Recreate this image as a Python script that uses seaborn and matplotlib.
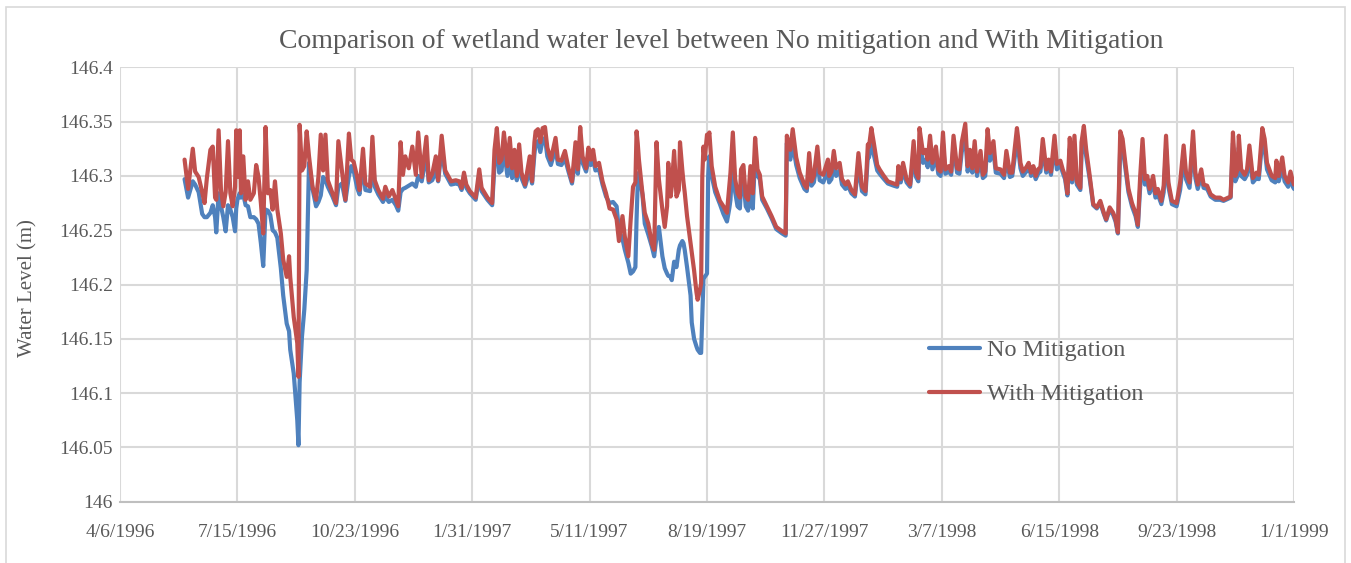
import numpy as np
import pandas as pd
import matplotlib
matplotlib.use("Agg")
import matplotlib.pyplot as plt
from matplotlib.lines import Line2D
from matplotlib.patches import Rectangle
import seaborn as sns

# Simulated wetland water level (m), sampled at day offsets from the start date
START_DATE = "1996-04-06"
day_offset = [
    55, 58, 62, 64, 67, 70, 72, 74, 77, 79, 81, 82, 84, 86, 88, 90, 92, 94, 96, 98,
    99, 100, 102, 103, 105, 107, 109, 111, 114, 116, 118, 120, 122, 124, 126, 128, 130, 132, 134, 137,
    139, 142, 144, 145, 148, 151, 152, 153, 155, 157, 159, 161, 164, 167, 169, 171, 173, 175, 177, 181,
    184, 186, 189, 192, 195, 197, 199, 202, 204, 207, 209, 213, 215, 217, 220, 224, 226, 229, 232, 235,
    237, 239, 241, 243, 246, 249, 252, 254, 257, 261, 263, 266, 269, 271, 274, 277, 282, 286, 289, 291,
    293, 295, 298, 303, 306, 308, 313, 317, 319, 321, 323, 325, 327, 330, 332, 334, 336, 338, 340, 342,
    345, 349, 351, 353, 354, 356, 358, 360, 362, 364, 367, 371, 373, 376, 379, 382, 385, 388, 390, 392,
    394, 397, 399, 401, 403, 405, 408, 411, 414, 417, 420, 423, 425, 428, 430, 433, 435, 437, 439, 440,
    441, 442, 445, 447, 450, 453, 455, 457, 459, 462, 464, 466, 467, 469, 470, 472, 474, 476, 477, 479,
    480, 481, 483, 486, 487, 489, 491, 492, 494, 495, 496, 497, 498, 500, 501, 502, 504, 507, 511, 514,
    517, 519, 520, 522, 524, 526, 528, 529, 531, 533, 535, 537, 539, 541, 543, 545, 547, 551, 555, 559,
    564, 567, 568, 571, 573, 576, 579, 583, 585, 587, 589, 591, 594, 596, 599, 603, 604, 606, 608, 610,
    613, 615, 618, 620, 623, 626, 629, 632, 635, 637, 638, 640, 642, 645, 647, 650, 654, 659, 662, 663,
    665, 667, 670, 673, 676, 678, 680, 681, 684, 686, 688, 690, 692, 695, 697, 699, 701, 703, 706, 708,
    710, 713, 715, 717, 720, 722, 724, 726, 728, 730, 733, 735, 737, 739, 741, 744, 746, 750, 753, 755,
    758, 760, 762, 764, 765, 767, 769, 772, 774, 776, 778, 780, 782, 784, 786, 789, 791, 793, 796, 798,
    801, 803, 805, 807, 809, 811, 813, 815, 818, 819, 821, 823, 826, 829, 832, 835, 838, 840, 843, 846,
    848, 850, 852, 854, 856, 859, 862, 865, 867, 869, 871, 873, 875, 877, 880, 882, 884, 887, 889, 891,
    893, 896, 900, 903, 906, 908, 911, 914, 916, 918, 921, 923, 926, 929, 933, 937, 940, 944, 946, 948,
    950, 952, 953, 955, 958, 960, 962, 965, 968, 970, 973, 975, 977, 981, 984, 985, 987, 990, 992, 995,
    997, 999, 1000,
]

with_mitigation = [
    146.315, 146.288, 146.325, 146.304, 146.299, 146.285, 146.275, 146.298, 146.324, 146.327,
    146.280, 146.278, 146.342, 146.287, 146.272, 146.285, 146.332, 146.284, 146.272, 146.290,
    146.342, 146.299, 146.342, 146.284, 146.318, 146.278, 146.295, 146.278, 146.284, 146.310,
    146.299, 146.275, 146.247, 146.345, 146.284, 146.287, 146.269, 146.295, 146.269, 146.247,
    146.223, 146.207, 146.226, 146.207, 146.170, 146.146, 146.115, 146.347, 146.305, 146.309,
    146.341, 146.318, 146.290, 146.278, 146.299, 146.338, 146.305, 146.338, 146.296, 146.284,
    146.275, 146.332, 146.305, 146.278, 146.339, 146.315, 146.313, 146.299, 146.287, 146.325,
    146.293, 146.290, 146.336, 146.296, 146.287, 146.279, 146.290, 146.281, 146.287, 146.278,
    146.272, 146.331, 146.301, 146.318, 146.307, 146.327, 146.301, 146.340, 146.299, 146.336,
    146.296, 146.302, 146.318, 146.296, 146.337, 146.305, 146.295, 146.296, 146.295, 146.289,
    146.303, 146.292, 146.286, 146.280, 146.306, 146.289, 146.280, 146.275, 146.324, 146.344,
    146.312, 146.315, 146.340, 146.309, 146.335, 146.307, 146.324, 146.300, 146.329, 146.303,
    146.292, 146.318, 146.295, 146.331, 146.341, 146.343, 146.331, 146.344, 146.345, 146.326,
    146.315, 146.335, 146.315, 146.314, 146.323, 146.307, 146.295, 146.331, 146.306, 146.345,
    146.318, 146.307, 146.326, 146.315, 146.324, 146.309, 146.312, 146.295, 146.284, 146.270,
    146.269, 146.260, 146.240, 146.263, 146.244, 146.226, 146.260, 146.290, 146.294, 146.341,
    146.330, 146.315, 146.284, 146.266, 146.256, 146.238, 146.232, 146.331, 146.297, 146.269,
    146.253, 146.272, 146.312, 146.281, 146.290, 146.323, 146.281, 146.287, 146.331, 146.305,
    146.294, 146.285, 146.263, 146.238, 146.230, 146.213, 146.193, 146.186, 146.195, 146.201,
    146.300, 146.327, 146.315, 146.338, 146.335, 146.340, 146.309, 146.290, 146.277, 146.272,
    146.266, 146.290, 146.303, 146.340, 146.297, 146.284, 146.280, 146.306, 146.310, 146.281,
    146.278, 146.309, 146.284, 146.335, 146.306, 146.301, 146.281, 146.272, 146.263, 146.253,
    146.249, 146.247, 146.337, 146.324, 146.343, 146.317, 146.303, 146.292, 146.289, 146.321,
    146.295, 146.300, 146.327, 146.303, 146.301, 146.315, 146.300, 146.304, 146.323, 146.307,
    146.312, 146.297, 146.292, 146.295, 146.287, 146.283, 146.321, 146.290, 146.286, 146.329,
    146.327, 146.344, 146.331, 146.310, 146.306, 146.301, 146.295, 146.293, 146.292, 146.309,
    146.297, 146.312, 146.297, 146.292, 146.332, 146.303, 146.298, 146.344, 146.321, 146.324,
    146.315, 146.337, 146.312, 146.327, 146.306, 146.304, 146.340, 146.306, 146.309, 146.304,
    146.337, 146.307, 146.306, 146.331, 146.348, 146.309, 146.324, 146.307, 146.332, 146.304,
    146.323, 146.301, 146.304, 146.343, 146.321, 146.332, 146.307, 146.306, 146.301, 146.323,
    146.303, 146.303, 146.324, 146.344, 146.335, 146.312, 146.304, 146.308, 146.312, 146.303,
    146.309, 146.300, 146.306, 146.308, 146.334, 146.306, 146.315, 146.304, 146.337, 146.311,
    146.314, 146.306, 146.300, 146.284, 146.335, 146.297, 146.337, 146.295, 146.289, 146.331,
    146.346, 146.324, 146.300, 146.274, 146.271, 146.277, 146.266, 146.260, 146.271, 146.266,
    146.260, 146.248, 146.341, 146.334, 146.315, 146.288, 146.275, 146.266, 146.255, 146.300,
    146.334, 146.297, 146.300, 146.288, 146.300, 146.284, 146.288, 146.277, 146.291, 146.337,
    146.294, 146.277, 146.275, 146.294, 146.328, 146.303, 146.294, 146.341, 146.303, 146.292,
    146.306, 146.292, 146.291, 146.283, 146.280, 146.280, 146.278, 146.280, 146.281, 146.340,
    146.300, 146.306, 146.337, 146.306, 146.301, 146.306, 146.328, 146.298, 146.303, 146.301,
    146.344, 146.334, 146.312, 146.300, 146.298, 146.314, 146.300, 146.317, 146.300, 146.294,
    146.304, 146.295, 146.292,
]

no_mitigation = [
    146.297, 146.280, 146.295, 146.292, 146.285, 146.265, 146.262, 146.262, 146.266, 146.273,
    146.262, 146.248, 146.284, 146.272, 146.262, 146.249, 146.273, 146.269, 146.262, 146.249,
    146.270, 146.278, 146.284, 146.280, 146.283, 146.273, 146.272, 146.262, 146.262, 146.260,
    146.256, 146.238, 146.217, 146.269, 146.268, 146.264, 146.250, 146.248, 146.243, 146.215,
    146.190, 146.164, 146.157, 146.140, 146.118, 146.075, 146.052, 146.110, 146.152, 146.177,
    146.213, 146.312, 146.288, 146.272, 146.276, 146.282, 146.299, 146.296, 146.290, 146.281,
    146.273, 146.290, 146.293, 146.277, 146.300, 146.309, 146.305, 146.289, 146.283, 146.312,
    146.287, 146.286, 146.324, 146.290, 146.283, 146.276, 146.281, 146.276, 146.278, 146.273,
    146.268, 146.285, 146.288, 146.289, 146.291, 146.293, 146.290, 146.300, 146.295, 146.320,
    146.294, 146.296, 146.305, 146.295, 146.325, 146.302, 146.292, 146.293, 146.292, 146.287,
    146.300, 146.289, 146.284, 146.278, 146.300, 146.286, 146.278, 146.273, 146.310, 146.330,
    146.303, 146.305, 146.325, 146.300, 146.318, 146.298, 146.310, 146.296, 146.315, 146.298,
    146.290, 146.305, 146.293, 146.320, 146.330, 146.332, 146.322, 146.333, 146.335, 146.318,
    146.310, 146.325, 146.311, 146.310, 146.316, 146.304, 146.293, 146.318, 146.302, 146.330,
    146.312, 146.304, 146.315, 146.310, 146.315, 146.305, 146.306, 146.292, 146.281, 146.275,
    146.276, 146.272, 146.250, 146.242, 146.232, 146.220, 146.210, 146.212, 146.216, 146.260,
    146.294, 146.303, 146.283, 146.256, 146.246, 146.235, 146.226, 146.244, 146.253, 146.226,
    146.215, 146.210, 146.208, 146.207, 146.204, 146.221, 146.216, 146.232, 146.236, 146.240,
    146.238, 146.232, 146.216, 146.190, 146.165, 146.150, 146.143, 146.140, 146.137, 146.137,
    146.170, 146.205, 146.207, 146.210, 146.300, 146.318, 146.300, 146.285, 146.274, 146.265,
    146.258, 146.270, 146.278, 146.320, 146.285, 146.272, 146.270, 146.290, 146.295, 146.272,
    146.268, 146.290, 146.270, 146.320, 146.300, 146.297, 146.278, 146.270, 146.261, 146.251,
    146.247, 146.245, 146.330, 146.315, 146.330, 146.310, 146.298, 146.288, 146.286, 146.310,
    146.291, 146.294, 146.315, 146.296, 146.294, 146.305, 146.294, 146.297, 146.312, 146.300,
    146.305, 146.292, 146.288, 146.291, 146.284, 146.281, 146.310, 146.286, 146.283, 146.318,
    146.317, 146.330, 146.320, 146.305, 146.302, 146.298, 146.293, 146.291, 146.290, 146.300,
    146.294, 146.305, 146.294, 146.290, 146.320, 146.299, 146.295, 146.332, 146.312, 146.315,
    146.308, 146.325, 146.306, 146.318, 146.302, 146.300, 146.330, 146.302, 146.304, 146.301,
    146.328, 146.303, 146.302, 146.322, 146.337, 146.304, 146.316, 146.303, 146.322, 146.300,
    146.315, 146.298, 146.300, 146.332, 146.314, 146.323, 146.303, 146.302, 146.298, 146.315,
    146.299, 146.300, 146.316, 146.333, 146.326, 146.307, 146.300, 146.304, 146.310, 146.300,
    146.305, 146.297, 146.302, 146.304, 146.325, 146.303, 146.310, 146.301, 146.328, 146.306,
    146.310, 146.303, 146.297, 146.282, 146.325, 146.294, 146.327, 146.292, 146.287, 146.320,
    146.334, 146.318, 146.297, 146.273, 146.270, 146.275, 146.265, 146.259, 146.269, 146.264,
    146.258, 146.247, 146.328, 146.326, 146.310, 146.285, 146.272, 146.263, 146.253, 146.290,
    146.323, 146.292, 146.295, 146.284, 146.293, 146.280, 146.283, 146.274, 146.285, 146.325,
    146.290, 146.274, 146.272, 146.287, 146.318, 146.297, 146.289, 146.330, 146.298, 146.288,
    146.300, 146.289, 146.288, 146.281, 146.278, 146.278, 146.277, 146.279, 146.280, 146.330,
    146.295, 146.300, 146.326, 146.300, 146.297, 146.301, 146.318, 146.294, 146.298, 146.297,
    146.333, 146.325, 146.306, 146.296, 146.294, 146.306, 146.295, 146.308, 146.295, 146.290,
    146.298, 146.290, 146.288,
]

series_names = ["No Mitigation", "With Mitigation"]
series_colors = ["#4F81BD", "#C0504D"]
y_ticks = [146.0, 146.05, 146.1, 146.15, 146.2, 146.25, 146.3, 146.35, 146.4]
x_tick_step_days = 100
x_start, x_end = "1996-04-06", "1999-01-01"

title_text = "Comparison of wetland water level between No mitigation and With Mitigation"
y_label = "Water Level (m)"

dates = pd.Timestamp(START_DATE) + pd.to_timedelta(day_offset, unit="D")
df = pd.concat([
    pd.DataFrame({"date": dates, "level": no_mitigation, "series": series_names[0]}),
    pd.DataFrame({"date": dates, "level": with_mitigation, "series": series_names[1]}),
], ignore_index=True)

sns.set_style("white")
plt.rcParams["font.family"] = ["Liberation Serif", "DejaVu Serif"]
text_color = "#595959"
grid_color = "#D9D9D9"

fig = plt.figure(figsize=(13.51, 5.63), dpi=100)
ax = fig.add_axes([120 / 1351, 1 - 501.7 / 563, (1294 - 120) / 1351, (501.7 - 67.3) / 563])

sns.lineplot(data=df, x="date", y="level", hue="series", hue_order=series_names,
             palette=series_colors, linewidth=3.0, ax=ax, legend=False, sort=True)

# axes range and ticks
ax.set_xlim(pd.Timestamp(x_start), pd.Timestamp(x_end))
ax.set_ylim(y_ticks[0], y_ticks[-1])
x_ticks = pd.date_range(x_start, x_end, freq=f"{x_tick_step_days}D")
ax.set_xticks(x_ticks)
ax.set_xticklabels([f"{d.month}/{d.day}/{d.year}" for d in x_ticks])
ax.set_yticks(y_ticks)
ax.set_yticklabels([f"{v:g}" for v in y_ticks])
ax.tick_params(axis="both", length=0, labelsize=14, colors=text_color)
ax.tick_params(axis="x", pad=16)
ax.tick_params(axis="y", pad=5)

ax.grid(True, color=grid_color, linewidth=1.5)
ax.set_axisbelow(True)
for side in ["top", "right", "left"]:
    ax.spines[side].set_visible(False)
ax.spines["bottom"].set_color("#BFBFBF")
ax.spines["bottom"].set_linewidth(1.5)
ax.set_xlabel("")
ax.set_ylabel("")

fig.text(28 / 1351, 1 - 288 / 563, y_label, rotation=90, ha="center", va="center",
         fontsize=15, color=text_color)
fig.text(721 / 1351, 1 - 41 / 563, title_text, ha="center", va="center",
         fontsize=20, color=text_color)

handles = [Line2D([0], [0], color=c, linewidth=3.0) for c in series_colors]
leg = ax.legend(handles, series_names, loc="upper left",
                bbox_to_anchor=(917 / 1351, 1 - 327 / 563), bbox_transform=fig.transFigure,
                frameon=False, fontsize=17.5, handlelength=2.1, handletextpad=0.3,
                labelspacing=0.9, borderpad=0.0)
for t in leg.get_texts():
    t.set_color(text_color)

# chart-area border
fig.patches.append(Rectangle((6 / 1351, -0.05), (1345 - 6) / 1351, 1 - 7 / 563 + 0.05,
                             transform=fig.transFigure, fill=False,
                             edgecolor="#D9D9D9", linewidth=1.2))

fig.savefig("out.png", dpi=100)
